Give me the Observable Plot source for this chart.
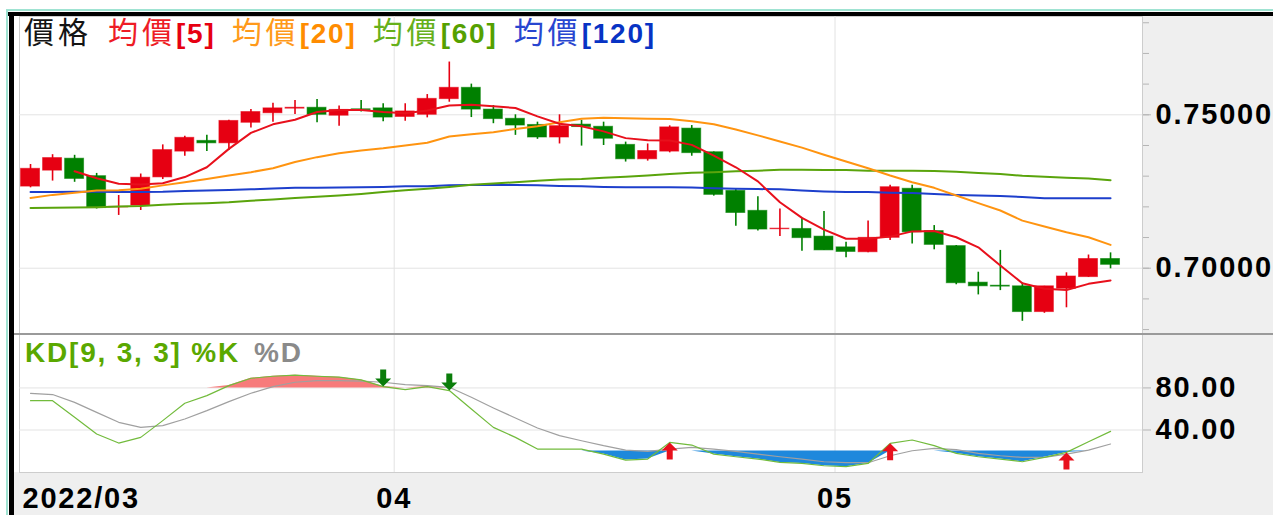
<!DOCTYPE html>
<html><head><meta charset="utf-8">
<script src="https://cdn.jsdelivr.net/npm/d3@7"></script>
<script src="https://cdn.jsdelivr.net/npm/@observablehq/plot@0.6"></script>
<style>
html,body{margin:0;padding:0;}
body{width:1273px;height:515px;overflow:hidden;position:relative;background:#fff;font-family:"Liberation Sans",Arial,sans-serif;}
.abs{position:absolute;}
#legend{position:absolute;left:24px;top:16px;font-weight:bold;font-size:28px;letter-spacing:1.8px;line-height:28px;white-space:nowrap;z-index:5;}
#legend .c{font-family:"Noto Sans CJK TC";font-weight:normal;font-size:30px;letter-spacing:4px;}
#legend .g{margin-left:16px;}
#kdtitle{position:absolute;left:25px;top:339px;font-weight:bold;font-size:28px;letter-spacing:1.8px;line-height:28px;white-space:nowrap;z-index:5;}
svg{position:absolute;left:0;overflow:visible;}
</style></head><body>
<div class="abs" style="left:6px;top:9px;width:1267px;height:2px;background:#9fe3d2"></div>
<div class="abs" style="left:6px;top:9px;width:2px;height:506px;background:#9fe3d2"></div>
<div class="abs" style="left:14px;top:16px;width:1259px;height:499px;background:#efefef"></div>
<div class="abs" style="left:14px;top:16px;width:5px;height:456px;background:#fff"></div>
<div id="charts"></div>
<div class="abs" style="left:14px;top:333px;width:1259px;height:1.5px;background:#9a9a9a;z-index:4"></div>
<div class="abs" style="left:8px;top:12px;width:1265px;height:4px;background:#000;z-index:6"></div>
<div class="abs" style="left:9px;top:12px;width:5px;height:503px;background:#000;z-index:6"></div>
<div id="legend"><span class="c" style="color:#141414">價格</span><span class="g"><span class="c" style="color:#ee1c25">均價</span><span style="color:#e60012">[5]</span></span><span class="g"><span class="c" style="color:#ff9a1a">均價</span><span style="color:#ff8c00">[20]</span></span><span class="g"><span class="c" style="color:#66b01a">均價</span><span style="color:#55a000">[60]</span></span><span class="g"><span class="c" style="color:#2846d0">均價</span><span style="color:#0733c4">[120]</span></span></div>
<div id="kdtitle"><span style="color:#5aa800">KD[9, 3, 3] %K</span><span style="color:#8a8a8a;margin-left:14px">%D</span></div>
<script>
// ---- data ----
const openP  = [0.7266,0.7318,0.7357,0.7300,0.7198,0.7204,0.7296,0.7380,0.7415,0.7407,0.7474,0.7505,0.7520,0.7523,0.7497,0.7518,0.7521,0.7493,0.7500,0.7551,0.7588,0.7517,0.7487,0.7467,0.7426,0.7468,0.7461,0.7402,0.7355,0.7380,0.7455,0.7378,0.7252,0.7187,0.7127,0.7128,0.7103,0.7068,0.7052,0.7099,0.7259,0.7121,0.7072,0.6953,0.6943,0.6941,0.6857,0.6933,0.6971,0.7030];
const highP  = [0.7338,0.7370,0.7368,0.7309,0.7237,0.7307,0.7402,0.7430,0.7433,0.7482,0.7517,0.7538,0.7547,0.7550,0.7529,0.7547,0.7536,0.7536,0.7566,0.7672,0.7600,0.7530,0.7500,0.7476,0.7500,0.7482,0.7476,0.7411,0.7405,0.7464,0.7465,0.7379,0.7259,0.7233,0.7193,0.7164,0.7185,0.7085,0.7154,0.7270,0.7270,0.7139,0.7074,0.6987,0.7058,0.6952,0.6941,0.6985,0.7043,0.7050];
const lowP   = [0.7262,0.7284,0.7280,0.7193,0.7172,0.7188,0.7289,0.7365,0.7380,0.7384,0.7457,0.7476,0.7501,0.7474,0.7463,0.7509,0.7477,0.7479,0.7490,0.7541,0.7491,0.7471,0.7433,0.7420,0.7405,0.7398,0.7400,0.7346,0.7349,0.7376,0.7365,0.7235,0.7137,0.7121,0.7103,0.7055,0.7058,0.7034,0.7050,0.7090,0.7079,0.7060,0.6946,0.6913,0.6927,0.6827,0.6853,0.6871,0.6970,0.6998];
const closeP = [0.7324,0.7359,0.7291,0.7196,0.7200,0.7295,0.7385,0.7425,0.7407,0.7480,0.7509,0.7521,0.7523,0.7500,0.7516,0.7515,0.7491,0.7511,0.7552,0.7588,0.7517,0.7486,0.7465,0.7426,0.7463,0.7460,0.7422,0.7355,0.7382,0.7459,0.7375,0.7239,0.7180,0.7126,0.7129,0.7098,0.7058,0.7053,0.7099,0.7264,0.7117,0.7076,0.6951,0.6941,0.6940,0.6857,0.6941,0.6973,0.7030,0.7011];
const ma5   = [null,null,0.7316,0.7293,0.7275,0.7273,0.7277,0.7297,0.7329,0.7389,0.7441,0.7469,0.7484,0.7509,0.7516,0.7516,0.7509,0.7505,0.7514,0.7530,0.7533,0.7528,0.7522,0.7495,0.7471,0.7463,0.7446,0.7424,0.7417,0.7416,0.7402,0.7367,0.7329,0.7283,0.7215,0.7164,0.7126,0.7096,0.7096,0.7103,0.7120,0.7121,0.7101,0.7068,0.7009,0.6951,0.6933,0.6929,0.6949,0.6960];
const ma20  = [0.7229,0.7239,0.7246,0.7253,0.7254,0.7259,0.7270,0.7280,0.7291,0.7302,0.7313,0.7326,0.7346,0.7362,0.7375,0.7384,0.7391,0.7400,0.7409,0.7429,0.7437,0.7443,0.7454,0.7463,0.7476,0.7487,0.7490,0.7489,0.7487,0.7486,0.7479,0.7469,0.7452,0.7433,0.7413,0.7393,0.7370,0.7348,0.7326,0.7302,0.7280,0.7262,0.7237,0.7212,0.7188,0.7155,0.7136,0.7117,0.7101,0.7076];
const ma60  = [0.7196,0.7197,0.7198,0.7199,0.7201,0.7203,0.7207,0.7210,0.7212,0.7215,0.7220,0.7224,0.7229,0.7233,0.7237,0.7242,0.7248,0.7254,0.7259,0.7265,0.7272,0.7276,0.7280,0.7285,0.7289,0.7291,0.7295,0.7298,0.7302,0.7307,0.7311,0.7313,0.7316,0.7318,0.7321,0.7321,0.7320,0.7320,0.7318,0.7318,0.7318,0.7317,0.7314,0.7310,0.7307,0.7301,0.7298,0.7295,0.7292,0.7287];
const ma120 = [0.7248,0.7248,0.7249,0.7249,0.7248,0.7248,0.7249,0.7252,0.7253,0.7255,0.7257,0.7260,0.7262,0.7262,0.7263,0.7264,0.7265,0.7267,0.7267,0.7270,0.7271,0.7271,0.7271,0.7270,0.7268,0.7267,0.7265,0.7264,0.7264,0.7264,0.7263,0.7261,0.7259,0.7258,0.7257,0.7253,0.7250,0.7248,0.7248,0.7246,0.7245,0.7242,0.7239,0.7237,0.7235,0.7232,0.7228,0.7228,0.7228,0.7228];
const kLine = [67.9,67.9,52.1,36.2,27.6,33.0,48.9,65.4,72.7,82.2,89.2,91.1,92.1,91.1,90.2,87.6,81.3,78.4,81.3,77.5,60.0,42.5,33.0,21.9,21.9,21.9,17.1,11.4,12.4,28.2,25.7,17.1,14.6,12.4,9.2,8.2,6.0,5.1,8.2,27.3,30.5,25.1,17.8,14.6,12.4,9.8,14.0,18.7,28.9,38.7];
const dLine = [74.9,73.7,66.3,56.8,47.3,42.5,44.1,50.5,58.4,67.0,74.9,81.3,85.4,87.0,87.0,86.4,85.4,83.2,82.2,80.6,71.1,61.0,51.4,41.9,34.6,29.8,25.1,20.9,19.7,21.9,23.5,21.9,19.7,17.1,14.6,12.4,9.8,8.9,8.9,15.5,20.3,22.5,21.3,17.8,15.5,14.0,14.0,17.1,20.9,26.7];
const monthLabels = ["2022/03","04","05"];
const monthStart  = [0,17,37];
const priceTicks  = [0.70,0.75];
const priceMinorTicks = [0.68,0.69,0.70,0.71,0.72,0.73,0.74,0.75,0.76,0.77,0.78];
const kdTicks = [40,80];
const kdOverbought = 80, kdOversold = 20;
const downSignals = [16,19];
const upSignals = [29,39,47];

// ---- derived tables ----
const RED = "#e60012", GREEN = "#008000";
const candles = openP.map((o,i)=>({i, open:o, high:highP[i], low:lowP[i], close:closeP[i], up: closeP[i] >= o}));
const kd = kLine.map((k,i)=>({i, k, d:dLine[i]}));
const monthGrid = monthStart.slice(1).map(s=>s-0.5);
const monthTicks = monthLabels.map((label,j)=>({label, x: monthStart[j]-0.5}));

const X = {domain:[-0.5, 50.45], axis:null};
const W = 1273, ML = 19, MR = 131;
const textStyle = {background:"transparent", fontFamily:'"Liberation Sans", Arial, sans-serif', fontSize:"29px", fontWeight:"bold", color:"#000", letterSpacing:"1.8px", overflow:"visible"};

const downArrow = {draw(c){c.moveTo(0,0);c.lineTo(-8,-8);c.lineTo(-3,-8);c.lineTo(-3,-17);c.lineTo(3,-17);c.lineTo(3,-8);c.lineTo(8,-8);c.closePath();}};
const upArrow = {draw(c){c.moveTo(0,0);c.lineTo(-8,8);c.lineTo(-3,8);c.lineTo(-3,17);c.lineTo(3,17);c.lineTo(3,8);c.lineTo(8,8);c.closePath();}};

const price = Plot.plot({
  width:W, height:333, marginTop:16, marginBottom:0, marginLeft:ML, marginRight:MR,
  x:X, y:{domain:[0.67872,0.78204], axis:null},
  color:{type:"identity"},
  style:textStyle,
  marks:[
    Plot.frame({fill:"#fff", stroke:"#cdcdcd"}),
    Plot.ruleY(priceTicks,{stroke:"#e3e3e3"}),
    Plot.ruleX(monthGrid,{stroke:"#e3e3e3"}),
    Plot.axisY(priceMinorTicks,{anchor:"right", tickSize:6, fill:"none", stroke:"#b5b5b5"}),
    Plot.axisY(priceTicks,{anchor:"right", tickSize:8, tickPadding:5, tickFormat:d3.format(".5f"), stroke:"#b5b5b5", fill:"#000"}),
    Plot.ruleX(candles,{x:"i", y1:"low", y2:"high", stroke:d=>d.up?RED:GREEN, strokeWidth:1.6}),
    Plot.rect(candles,{x1:d=>d.i-0.43, x2:d=>d.i+0.43, y1:"open", y2:"close", fill:d=>d.up?RED:GREEN, stroke:d=>d.up?RED:GREEN, strokeOpacity:0.55, strokeWidth:1}),
    Plot.line(ma120,{x:(d,i)=>i, y:d=>d, stroke:"#1d3fcc", strokeWidth:2}),
    Plot.line(ma60,{x:(d,i)=>i, y:d=>d, stroke:"#5aa40c", strokeWidth:2}),
    Plot.line(ma20,{x:(d,i)=>i, y:d=>d, stroke:"#ff9410", strokeWidth:2}),
    Plot.line(ma5,{x:(d,i)=>i, y:d=>d, stroke:"#e8101c", strokeWidth:2})
  ]
});
price.style.top = "0px";

const kdPlot = Plot.plot({
  width:W, height:183, marginTop:2, marginBottom:43, marginLeft:ML, marginRight:MR,
  x:X, y:{domain:[-0.4,130.8], axis:null},
  color:{type:"identity"},
  style:textStyle,
  marks:[
    Plot.frame({fill:"#fff", stroke:"#cdcdcd"}),
    Plot.ruleY(kdTicks,{stroke:"#e3e3e3"}),
    Plot.ruleX(monthGrid,{stroke:"#e3e3e3"}),
    Plot.axisY(kdTicks,{anchor:"right", tickSize:8, tickPadding:5, tickFormat:d3.format(".2f"), stroke:"#b5b5b5", fill:"#000"}),
    Plot.areaY(kd,{x:"i", y1:()=>kdOverbought, y2:d=>Math.max(d.k,kdOverbought), fill:"#f77b7b"}),
    Plot.areaY(kd,{x:"i", y1:()=>kdOversold, y2:d=>Math.min(d.k,kdOversold), fill:"#1e88dc"}),
    Plot.line(kd,{x:"i", y:"d", stroke:"#a0a0a0", strokeWidth:1.2}),
    Plot.line(kd,{x:"i", y:"k", stroke:"#72bb3c", strokeWidth:1.2}),
    Plot.dot(downSignals,{x:d=>d, y:d=>kLine[d], symbol:downArrow, fill:"#0a7d0a", stroke:"none"}),
    Plot.dot(upSignals,{x:d=>d, y:d=>kLine[d], symbol:upArrow, fill:"#e8101c", stroke:"none"}),
    Plot.text(monthTicks.slice(0,1),{x:"x", text:"label", frameAnchor:"bottom", textAnchor:"start", lineAnchor:"top", dx:3, dy:15, fill:"#000"}),
    Plot.text(monthTicks.slice(1),{x:"x", text:"label", frameAnchor:"bottom", textAnchor:"middle", lineAnchor:"top", dy:15, fill:"#000"})
  ]
});
kdPlot.style.top = "332px";

const holder = document.getElementById("charts");
holder.appendChild(price);
holder.appendChild(kdPlot);
</script>
</body></html>
